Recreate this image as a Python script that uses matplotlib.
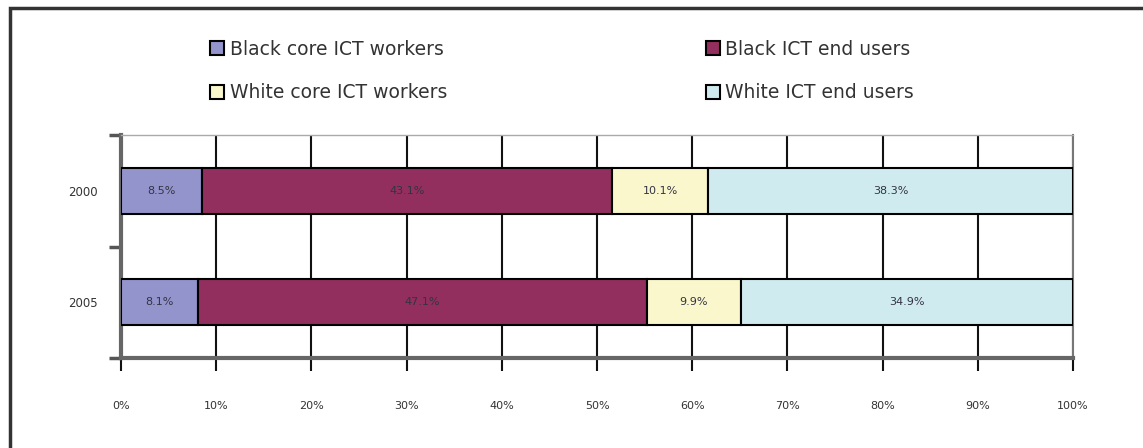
import matplotlib
matplotlib.use("Agg")
import matplotlib.pyplot as plt
from matplotlib.patches import Rectangle, Patch
from matplotlib.ticker import FixedLocator
import numpy as np

years = ["2000", "2005"]
series_names = ["Black core ICT workers", "Black ICT end users",
                "White core ICT workers", "White ICT end users"]
black_core = [8.5, 8.1]
black_end = [43.1, 47.1]
white_core = [10.1, 9.9]
white_end = [38.3, 34.9]
colors = ["#9494CC", "#922F5E", "#FAF7CD", "#CFEBEF"]
xticks = [0, 10, 20, 30, 40, 50, 60, 70, 80, 90, 100]
xtick_labels = ["0%", "10%", "20%", "30%", "40%", "50%", "60%", "70%", "80%", "90%", "100%"]

fig = plt.figure(figsize=(11.43, 4.48), dpi=100)
ax = fig.add_axes([121/1143, 1-358/448, (1073-121)/1143, (358-135)/448])

ypos = np.arange(len(years))
left = np.zeros(len(years))
handles = []
for vals, col, name in zip([black_core, black_end, white_core, white_end], colors, series_names):
    bars = ax.barh(ypos, vals, left=left, height=0.41, color=col, edgecolor="black",
                   linewidth=1.5, zorder=3)
    for b, v in zip(bars, vals):
        ax.text(b.get_x() + b.get_width()/2, b.get_y() + b.get_height()/2, f"{v}%",
                ha="center", va="center", fontsize=8, color="#333344", zorder=4)
    left = left + np.array(vals)
    handles.append(Patch(facecolor=col, edgecolor="black", linewidth=1.5, label=name))

ax.set_xlim(0, 100)
ax.set_ylim(1.5, -0.5)
ax.set_xticks(xticks)
ax.set_xticklabels(xtick_labels)
ax.grid(axis="x", color="#111111", linewidth=1.5, zorder=0)
ax.set_axisbelow(True)

ax.set_yticks(ypos)
ax.set_yticklabels(years)
ax.yaxis.set_minor_locator(FixedLocator([-0.5, 0.5, 1.5]))
ax.tick_params(axis="y", which="major", length=0, pad=17, labelsize=8.5, labelcolor="#333333")
ax.tick_params(axis="y", which="minor", length=9, width=2.5, color="#555555")
ax.tick_params(axis="x", which="major", length=9, width=1.5, color="#111111", pad=22,
               labelsize=8, labelcolor="#333333")

for s in ["left", "bottom"]:
    ax.spines[s].set_color("#666666")
    ax.spines[s].set_linewidth(3)
ax.spines["top"].set_color("#aaaaaa")
ax.spines["top"].set_linewidth(1)
ax.spines["right"].set_color("#777777")
ax.spines["right"].set_linewidth(1.5)

# legend filled column-wise: row 1 = Black series, row 2 = White series
leg_handles = [handles[0], handles[2], handles[1], handles[3]]
fig.legend(handles=leg_handles, loc="upper left", bbox_to_anchor=(193/1143, 1-23/448),
           ncol=2, frameon=False, fontsize=13.5, handlelength=0.75, handleheight=0.75,
           handletextpad=0.3, columnspacing=13.8, labelspacing=1.3, labelcolor="#333333")

# outer frame
fig.patches.append(Rectangle((10/1143, -0.2), 1.2, 1 - 8/448 + 0.2, transform=fig.transFigure,
                             fill=False, edgecolor="#333333", linewidth=2.5))

fig.savefig("out.png", dpi=100)
